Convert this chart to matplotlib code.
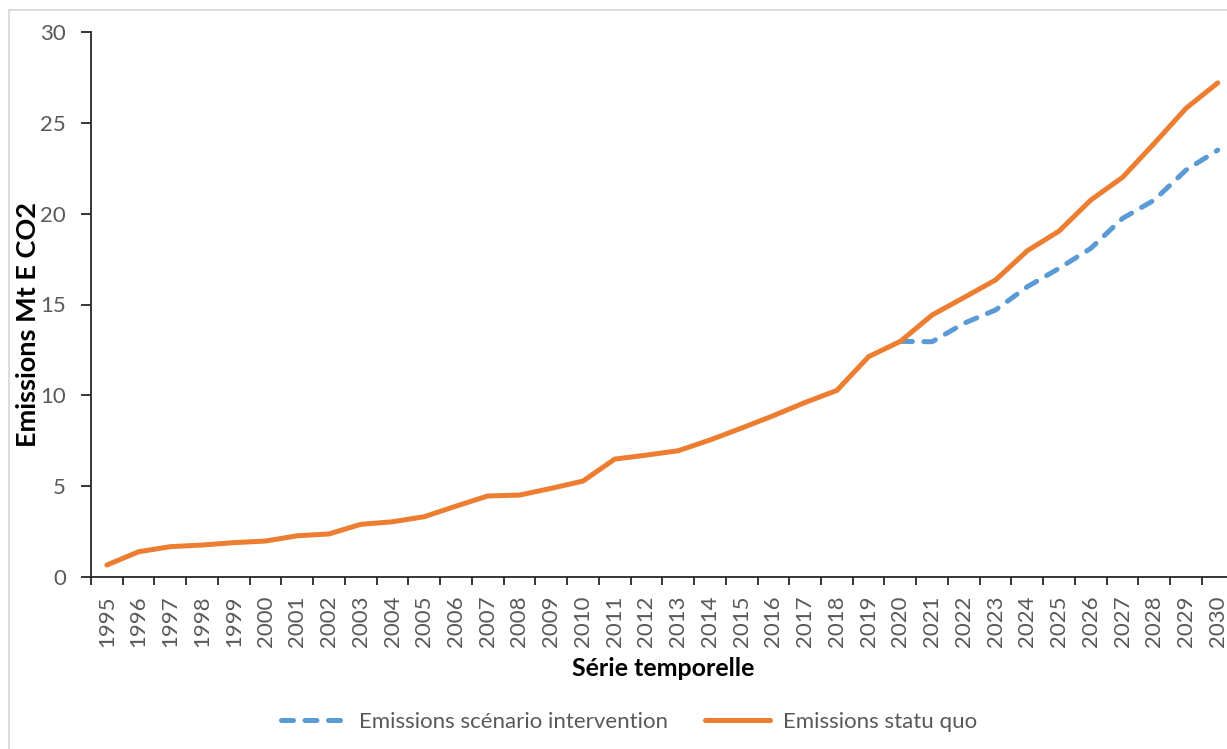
import matplotlib
matplotlib.use("Agg")
import matplotlib.pyplot as plt
from matplotlib.patches import Rectangle
from matplotlib.lines import Line2D

plt.rcParams['font.family'] = ['Lato', 'DejaVu Sans']

years = [str(y) for y in range(1995, 2031)]
statu_quo = [0.66, 1.39, 1.67, 1.76, 1.89, 1.98, 2.27, 2.37, 2.9, 3.04, 3.32,
             3.9, 4.46, 4.51, 4.88, 5.28, 6.49, 6.71, 6.95, 7.54, 8.2, 8.88,
             9.61, 10.27, 12.13, 12.97, 14.42, 15.38, 16.35, 17.96, 19.04,
             20.75, 22.0, 23.87, 25.8, 27.2]
interv_years = [str(y) for y in range(2020, 2031)]
intervention = [12.97, 12.95, 13.96, 14.7, 15.98, 16.99, 18.09, 19.74, 20.75,
                22.4, 23.5]
yticks = [0, 5, 10, 15, 20, 25, 30]

W, H = 1227, 749
fig = plt.figure(figsize=(W / 100, H / 100), dpi=100)
fig.patch.set_facecolor('white')

# outer chart border
fig.add_artist(Rectangle((9 / W, -0.1), 1.2, (H - 10) / H + 0.1,
                         transform=fig.transFigure, fill=False,
                         edgecolor='#D9D9D9', linewidth=1.3))

step = 31.74
left_px, top_px, bottom_px = 91, 32, 577
ax = fig.add_axes([left_px / W, (H - bottom_px) / H, 36 * step / W,
                   (bottom_px - top_px) / H])
ax.set_facecolor('none')

x_all = list(range(len(years)))
x_int = [years.index(y) for y in interv_years]

ax.plot(x_int, intervention, color='#5B9BD5', linewidth=3.6,
        linestyle=(0, (2.4, 2.3)), dash_capstyle='round',
        solid_capstyle='round', zorder=2,
        label='Emissions scénario intervention')
ax.plot(x_all, statu_quo, color='#ED7D31', linewidth=3.6,
        solid_capstyle='round', solid_joinstyle='round', zorder=3,
        label='Emissions statu quo')

ax.set_xlim(-0.5, len(years) - 0.5)
ax.set_ylim(0, 30)
ax.set_yticks(yticks)
ax.set_yticklabels([str(v) for v in yticks])

ax.set_xticks([i + 0.5 for i in range(-1, len(years))], minor=False)
ax.set_xticklabels([''] * (len(years) + 1))
ax.set_xticks(x_all, minor=True)
ax.set_xticklabels(years, minor=True, rotation=90)
ax.tick_params(axis='x', which='major', direction='out', length=6,
               width=1.3, color='#262626')
ax.tick_params(axis='x', which='minor', length=0, pad=13,
               labelsize=16, labelcolor='#595959')
ax.tick_params(axis='y', direction='out', length=7, width=1.3,
               color='#262626', pad=11, labelsize=16, labelcolor='#595959')

for s in ['top', 'right']:
    ax.spines[s].set_visible(False)
for s in ['left', 'bottom']:
    ax.spines[s].set_color('#262626')
    ax.spines[s].set_linewidth(1.3)

fig.text(663 / W, 1 - 668 / H, 'Série temporelle', ha='center', va='center',
         fontsize=18, fontweight='bold', color='black')
fig.text(28 / W, 1 - 324 / H, 'Emissions Mt E CO2', ha='center',
         va='center', rotation=90, fontsize=19.5, fontweight='bold',
         color='black')

handles = [
    Line2D([], [], color='#5B9BD5', linewidth=3.6, linestyle=(0, (2.4, 2.3)),
           dash_capstyle='round'),
    Line2D([], [], color='#ED7D31', linewidth=3.6, solid_capstyle='round'),
]
leg = fig.legend(handles, ['Emissions scénario intervention',
                           'Emissions statu quo'],
                 loc='center', bbox_to_anchor=(629 / W, 1 - 722 / H),
                 ncol=2, frameon=False, fontsize=16, handlelength=2.9,
                 handletextpad=0.6, columnspacing=1.7)
for t in leg.get_texts():
    t.set_color('#595959')

fig.savefig('out.png', dpi=100, facecolor='white')
